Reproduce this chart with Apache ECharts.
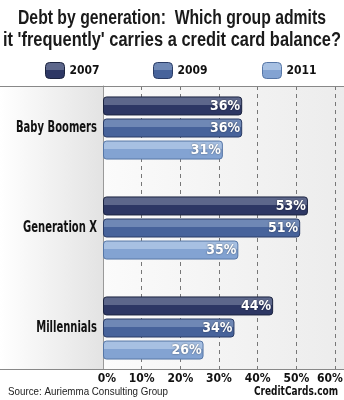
<!DOCTYPE html>
<html><head><meta charset="utf-8">
<script src="https://cdn.jsdelivr.net/npm/echarts@6/dist/echarts.min.js"></script>
<style>html,body{margin:0;padding:0;background:#fff}#c{width:344px;height:400px}</style>
</head><body><div id="c"></div>
<script>
var categories = ['Baby Boomers', 'Generation X', 'Millennials'];
var years = ['2007', '2009', '2011'];
var v2007 = [36, 53, 44];
var v2009 = [36, 51, 34];
var v2011 = [31, 35, 26];
var xTicks = [0, 10, 20, 30, 40, 50, 60];

var FONT = '"DejaVu Sans Condensed","Liberation Sans",sans-serif';
var cv = document.createElement('canvas').getContext('2d');
function fitText(txt, font, targetW){
  cv.font = font; var w = cv.measureText(txt).width; return targetW / w;
}

var palettes = [
  {top: '#5d678b', bot: '#2d3764', border: '#1c2440'},
  {top: '#6f88b5', bot: '#47639b', border: '#2a3c66'},
  {top: '#a7c0e2', bot: '#83a3d2', border: '#5676a6'}
];
function grad(p){
  return {type:'linear',x:0,y:0,x2:0,y2:1,colorStops:[
    {offset:0,color:p.top},{offset:0.46,color:p.top},{offset:0.46,color:p.bot},{offset:1,color:p.bot}]};
}
var values = [v2007, v2009, v2011];
var series = years.map(function(y,i){
  return {
    name: y, type: 'bar', xAxisIndex: 0, yAxisIndex: 0,
    data: values[i], barWidth: 19, barGap: '16%',
    itemStyle: {color: grad(palettes[i]), borderColor: palettes[i].border, borderWidth: 1, borderRadius: 3},
    label: {show: true, position: 'insideRight', distance: 2, formatter: '{c}%',
      color: '#fff', fontFamily: FONT, fontWeight: 'bold', fontSize: 14,
      textShadowColor: 'rgba(0,0,0,0.5)', textShadowBlur: 2},
    z: 5
  };
});
var legendX = [45, 153, 262];
var legends = years.map(function(y,i){
  return {data:[y], left: legendX[i], top: 62, padding: 0, itemWidth: 19, itemHeight: 16, itemGap: 8,
    textStyle:{fontFamily: FONT, fontWeight:'bold', fontSize: 12, color:'#111'},
    itemStyle:{borderColor: palettes[i].border, borderWidth:1}};
});

var TFONT = 'bold 20px "Liberation Sans",Arial,sans-serif';
var t1 = 'Debt by generation:  Which group admits';
var t2 = "it 'frequently' carries a credit card balance?";
var SFONT = '11px "Liberation Sans",Arial,sans-serif';
var src = 'Source: Auriemma Consulting Group';
var BFONT = 'bold 12px "DejaVu Sans",sans-serif';
var brand = 'CreditCards.com';
var CFONT = 'bold 15px "DejaVu Sans Condensed",sans-serif';
var catScale = fitText(categories[0], CFONT, 81);
var tickFont = {fontFamily: FONT, fontWeight:'bold', fontSize: 12, color:'#111'};

var chart = echarts.init(document.getElementById('c'), null, {renderer:'canvas'});
chart.setOption({
  animation: false,
  backgroundColor: '#fff',
  legend: legends,
  grid: [
    {left: 103, right: 9, top: 78, height: 300, outerBoundsMode: 'none', containLabel: false},
    {left: 103, right: 9, top: 86, bottom: 31, outerBoundsMode: 'none', containLabel: false}
  ],
  xAxis: [
    {gridIndex:0, type:'value', min: xTicks[0], max: xTicks[xTicks.length-1], interval: 10, show: false},
    {gridIndex:1, type:'value', min: xTicks[0], max: xTicks[xTicks.length-1], interval: 10,
      axisLine:{show:false}, axisTick:{show:false},
      splitLine:{show:true, lineStyle:{type:[4,4], color:'#777', width:1}},
      axisLabel:{margin: 4, fontFamily: FONT, fontWeight:'bold', fontSize: 12, color:'#111',
        formatter: function(v){
          if (v === xTicks[0]) return '{f|' + v + '%}';
          if (v === xTicks[xTicks.length-1]) return '{l|' + v + '%}';
          return v + '%';
        },
        rich: {
          f: Object.assign({padding:[0,0,0,8]}, tickFont),
          l: Object.assign({padding:[0,10,0,0]}, tickFont)
        }}}
  ],
  yAxis: [
    {gridIndex:0, type:'category', data: categories, inverse: true,
      axisLine:{show:false}, axisTick:{show:false}, splitLine:{show:false}, axisLabel:{show:false}},
    {gridIndex:1, type:'category', data: categories, inverse: true,
      axisLine:{show:true, lineStyle:{color:'#999'}}, axisTick:{show:false}, axisLabel:{show:false}, splitLine:{show:false}}
  ],
  graphic: [
    {id:'bgL', type:'rect', z:-10, shape:{x:0,y:86,width:103,height:283},
      style:{fill:{type:'linear',x:0,y:0,x2:1,y2:0,colorStops:[{offset:0,color:'#ffffff'},{offset:1,color:'#e3e3e3'}]}}},
    {id:'bgR', type:'rect', z:-10, shape:{x:103,y:86,width:241,height:283},
      style:{fill:{type:'linear',x:0,y:0,x2:1,y2:0,colorStops:[{offset:0,color:'#fbfbfb'},{offset:1,color:'#ececec'}]}}},
    {id:'lnT', type:'line', z:10, shape:{x1:0,y1:86.5,x2:344,y2:86.5}, style:{stroke:'#888', lineWidth:1}},
    {id:'lnB', type:'line', z:10, shape:{x1:0,y1:369.5,x2:344,y2:369.5}, style:{stroke:'#888', lineWidth:1}},
    {id:'t1', type:'text', x:172, y:18, scaleX: fitText(t1, TFONT, 308), style:{text:t1, font:TFONT, fill:'#1a1a1a', align:'center', verticalAlign:'middle'}},
    {id:'t2', type:'text', x:172, y:40, scaleX: fitText(t2, TFONT, 338), style:{text:t2, font:TFONT, fill:'#1a1a1a', align:'center', verticalAlign:'middle'}},
    {id:'src', type:'text', x: 8, y: 392, scaleX: fitText(src, SFONT, 160), style:{text:src, font:SFONT, fill:'#222', verticalAlign:'middle'}},
    {id:'brand', type:'text', x: 338, y: 392, scaleX: fitText(brand, BFONT, 84), style:{text:brand, font:BFONT, fill:'#111', align:'right', verticalAlign:'middle'}}
  ],
  series: series
});
var catG = categories.map(function(c, i){
  var y = chart.convertToPixel({yAxisIndex:0}, c);
  return {id:'cat'+i, type:'text', x: 97, y: y, scaleX: catScale,
    style:{text:c, font:CFONT, fill:'#111', align:'right', verticalAlign:'middle'}};
});
chart.setOption({graphic: catG});
</script>
</body></html>
